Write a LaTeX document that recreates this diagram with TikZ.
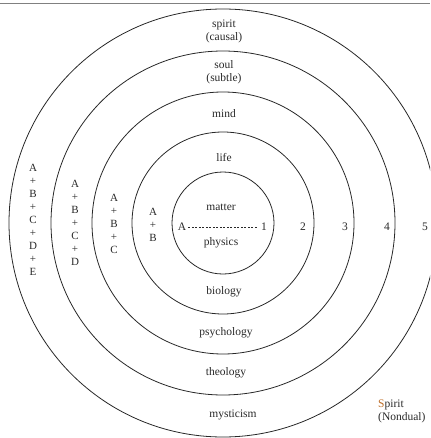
\documentclass[tikz,border=0pt]{standalone}
\usepackage{fontspec}
\setmainfont{Liberation Serif}
\definecolor{ink}{RGB}{40,40,40}
\definecolor{sorange}{RGB}{190,110,40}
\begin{document}
\begin{tikzpicture}[x=1pt,y=-1pt,
  ring/.style={circle, draw=ink, line width=0.8pt, inner sep=0pt},
  lbl/.style={font=\fontsize{11.5}{13}\selectfont, text=ink, inner sep=0pt, align=center},
  stacklbl/.style={font=\fontsize{11}{13}\selectfont, text=ink, inner sep=0pt, align=center},
  numlbl/.style={font=\fontsize{11.5}{13}\selectfont, text=ink, inner sep=0pt}]
\useasboundingbox (0,0) rectangle (430,438);
\clip (0,0) rectangle (430,438);
% top rule
\coordinate (tl) at (0,3);
\coordinate (tr) at (430,3);
\draw[gray, line width=0.8pt] (tl) -- (tr);
% rings
\node[ring, minimum size=102pt] (c1) at (223,223) {};
\node[ring, minimum size=182pt] (c2) at (223,223) {};
\node[ring, minimum size=262pt] (c3) at (223,223) {};
\node[ring, minimum size=344pt] (c4) at (223,223) {};
\node[ring, minimum size=428pt] (c5) at (223,223) {};
% upper labels
\node[lbl] (spirit) at (224,31) {spirit\\(causal)};
\node[lbl] (soul) at (224,72) {soul\\(subtle)};
\node[lbl] (mind) at (224,114) {mind};
\node[lbl] (life) at (224,158) {life};
\node[lbl] (matter) at (221,207) {matter};
\node[lbl] (physics) at (221,243) {physics};
% lower labels
\node[lbl] (biology) at (224,292) {biology};
\node[lbl] (psychology) at (226,333) {psychology};
\node[lbl] (theology) at (226,373) {theology};
\node[lbl] (mysticism) at (233,415) {mysticism};
% axis
\node[numlbl] (A) at (182,227) {A};
\node[numlbl] (n1) at (264,227) {1};
\draw[ink, dash pattern=on 2pt off 1.5pt, line width=0.5pt, shorten <=2pt, shorten >=3pt] (A) -- (n1);
\node[numlbl] (n2) at (303,227) {2};
\node[numlbl] (n3) at (345,227) {3};
\node[numlbl] (n4) at (387,227) {4};
\node[numlbl] (n5) at (425,227) {5};
% left stacks
\node[stacklbl] (s2) at (153,225) {A\\+\\B};
\node[stacklbl] (s3) at (114,224) {A\\+\\B\\+\\C};
\node[stacklbl] (s4) at (75,223) {A\\+\\B\\+\\C\\+\\D};
\node[stacklbl] (s5) at (33,220) {A\\+\\B\\+\\C\\+\\D\\+\\E};
% nondual
\node[lbl, anchor=west, align=left] (nondual) at (378,411) {\textcolor{sorange}{S}pirit\\(Nondual)};
\end{tikzpicture}
\end{document}
